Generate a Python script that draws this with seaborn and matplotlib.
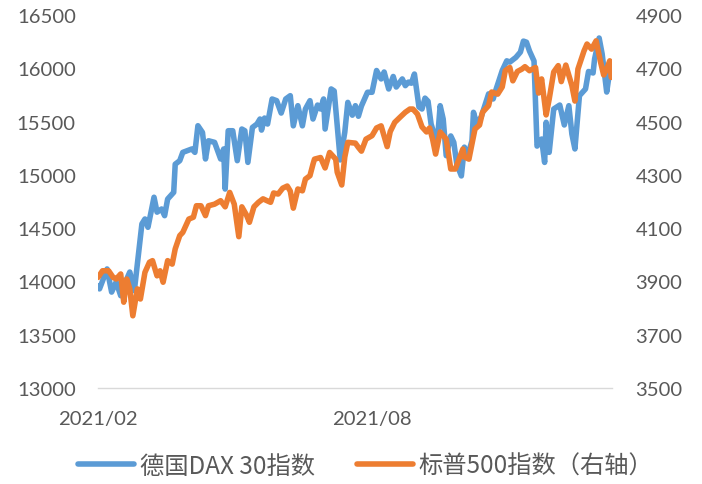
import pandas as pd
import matplotlib
matplotlib.use("Agg")
import matplotlib.pyplot as plt
from matplotlib.lines import Line2D
import seaborn as sns

# ---------------- data ----------------
dax_dates = [
    "2021-02-01", "2021-02-02", "2021-02-07", "2021-02-10", "2021-02-13", "2021-02-16",
    "2021-02-20", "2021-02-22", "2021-02-25", "2021-03-02", "2021-03-04", "2021-03-06",
    "2021-03-10", "2021-03-12", "2021-03-15", "2021-03-17", "2021-03-19", "2021-03-23",
    "2021-03-24", "2021-03-27", "2021-03-29", "2021-04-04", "2021-04-06", "2021-04-08",
    "2021-04-11", "2021-04-13", "2021-04-15", "2021-04-19", "2021-04-23", "2021-04-25",
    "2021-04-26", "2021-04-28", "2021-05-01", "2021-05-04", "2021-05-07", "2021-05-09",
    "2021-05-11", "2021-05-14", "2021-05-17", "2021-05-19", "2021-05-20", "2021-05-22",
    "2021-05-24", "2021-05-27", "2021-05-30", "2021-06-02", "2021-06-05", "2021-06-08",
    "2021-06-10", "2021-06-13", "2021-06-16", "2021-06-18", "2021-06-21", "2021-06-23",
    "2021-06-26", "2021-06-28", "2021-06-30", "2021-07-01", "2021-07-05", "2021-07-07",
    "2021-07-11", "2021-07-14", "2021-07-16", "2021-07-19", "2021-07-21", "2021-07-23",
    "2021-07-25", "2021-07-29", "2021-08-01", "2021-08-04", "2021-08-07", "2021-08-09",
    "2021-08-12", "2021-08-15", "2021-08-17", "2021-08-21", "2021-08-23", "2021-08-25",
    "2021-08-27", "2021-08-29", "2021-09-01", "2021-09-03", "2021-09-05", "2021-09-07",
    "2021-09-09", "2021-09-13", "2021-09-15", "2021-09-17", "2021-09-19", "2021-09-22",
    "2021-09-24", "2021-09-26", "2021-09-29", "2021-10-01", "2021-10-03", "2021-10-06",
    "2021-10-07", "2021-10-09", "2021-10-12", "2021-10-17", "2021-10-20", "2021-10-22",
    "2021-10-26", "2021-10-29", "2021-10-31", "2021-11-04", "2021-11-07", "2021-11-09",
    "2021-11-11", "2021-11-13", "2021-11-16", "2021-11-18", "2021-11-21", "2021-11-23",
    "2021-11-24", "2021-11-26", "2021-11-29", "2021-12-03", "2021-12-06", "2021-12-09",
    "2021-12-11", "2021-12-13", "2021-12-16", "2021-12-20", "2021-12-22", "2021-12-25",
    "2021-12-26", "2021-12-29", "2021-12-31", "2022-01-03", "2022-01-05", "2022-01-06",
]
dax_values = [
    13960, 13930, 14117, 13900, 13995, 13866,
    14023, 14088, 13913, 14540, 14586, 14508,
    14790, 14650, 14680, 14617, 14773, 14836,
    15100, 15133, 15211, 15243, 15211, 15461,
    15398, 15149, 15320, 15305, 15149, 15243,
    14867, 15414, 15414, 15133, 15430, 15414,
    15117, 15445, 15477, 15524, 15420, 15533,
    15477, 15712, 15696, 15580, 15712, 15743,
    15460, 15649, 15460, 15618, 15696, 15524,
    15655, 15618, 15712, 15430, 15806, 15787,
    15140, 15400, 15680, 15560, 15649, 15550,
    15646, 15775, 15775, 15979, 15900, 15965,
    15806, 15923, 15824, 15900, 15837, 15870,
    15860, 15946, 15637, 15618, 15720, 15690,
    15477, 15290, 15649, 15524, 15180, 15365,
    15305, 15100, 14990, 15260, 15168, 15320,
    15587, 15487, 15540, 15760, 15712, 15806,
    15979, 16070, 16058, 16102, 16152, 16255,
    16245, 16162, 16068, 15270, 15336, 15117,
    15493, 15211, 15618, 15655, 15468, 15649,
    15383, 15243, 15743, 15806, 15970, 15956,
    16087, 16284, 16134, 15777, 15975, 15918,
]

spx_dates = [
    "2021-02-01", "2021-02-04", "2021-02-08", "2021-02-11", "2021-02-13", "2021-02-16",
    "2021-02-18", "2021-02-20", "2021-02-22", "2021-02-24", "2021-02-27", "2021-03-01",
    "2021-03-04", "2021-03-07", "2021-03-09", "2021-03-12", "2021-03-14", "2021-03-16",
    "2021-03-19", "2021-03-22", "2021-03-24", "2021-03-27", "2021-03-29", "2021-04-02",
    "2021-04-05", "2021-04-07", "2021-04-10", "2021-04-13", "2021-04-15", "2021-04-19",
    "2021-04-23", "2021-04-26", "2021-04-29", "2021-05-02", "2021-05-05", "2021-05-07",
    "2021-05-10", "2021-05-12", "2021-05-15", "2021-05-18", "2021-05-21", "2021-05-24",
    "2021-05-26", "2021-05-28", "2021-05-31", "2021-06-03", "2021-06-06", "2021-06-08",
    "2021-06-10", "2021-06-13", "2021-06-16", "2021-06-18", "2021-06-21", "2021-06-23",
    "2021-06-24", "2021-06-28", "2021-07-01", "2021-07-04", "2021-07-08", "2021-07-09",
    "2021-07-12", "2021-07-14", "2021-07-16", "2021-07-21", "2021-07-23", "2021-07-25",
    "2021-07-28", "2021-08-01", "2021-08-04", "2021-08-07", "2021-08-11", "2021-08-13",
    "2021-08-16", "2021-08-20", "2021-08-23", "2021-08-26", "2021-08-28", "2021-08-31",
    "2021-09-03", "2021-09-06", "2021-09-08", "2021-09-10", "2021-09-12", "2021-09-15",
    "2021-09-19", "2021-09-22", "2021-09-25", "2021-09-27", "2021-09-30", "2021-10-01",
    "2021-10-04", "2021-10-06", "2021-10-08", "2021-10-11", "2021-10-13", "2021-10-17",
    "2021-10-19", "2021-10-23", "2021-10-26", "2021-10-28", "2021-10-31", "2021-11-02",
    "2021-11-05", "2021-11-08", "2021-11-10", "2021-11-13", "2021-11-17", "2021-11-19",
    "2021-11-21", "2021-11-24", "2021-11-26", "2021-11-29", "2021-12-02", "2021-12-04",
    "2021-12-07", "2021-12-11", "2021-12-13", "2021-12-15", "2021-12-19", "2021-12-21",
    "2021-12-24", "2021-12-27", "2021-12-30", "2022-01-01", "2022-01-03", "2022-01-05",
    "2022-01-06",
]
spx_values = [
    3915, 3940, 3940, 3915, 3909, 3928,
    3822, 3909, 3872, 3771, 3872, 3834,
    3934, 3972, 3978, 3921, 3940, 3897,
    3978, 3965, 4022, 4072, 4084, 4134,
    4141, 4184, 4184, 4147, 4184, 4190,
    4203, 4180, 4234, 4190, 4068, 4180,
    4150, 4122, 4180, 4197, 4210, 4202,
    4197, 4232, 4228, 4250, 4258, 4239,
    4175, 4247, 4240, 4284, 4297, 4340,
    4359, 4365, 4326, 4384, 4359, 4310,
    4262, 4367, 4422, 4419, 4403, 4389,
    4434, 4447, 4476, 4484, 4406, 4462,
    4497, 4519, 4535, 4547, 4547, 4528,
    4480, 4461, 4476, 4434, 4378, 4461,
    4434, 4322, 4322, 4352, 4397, 4367,
    4359, 4416, 4472, 4487, 4535, 4560,
    4611, 4603, 4630, 4691, 4703, 4653,
    4688, 4697, 4706, 4691, 4703, 4607,
    4660, 4525, 4584, 4686, 4710, 4650,
    4712, 4635, 4577, 4697, 4765, 4791,
    4772, 4803, 4722, 4675, 4697, 4728,
    4666,
]

dax_label = "德国DAX 30指数"
spx_label = "标普500指数（右轴）"
x_tick_dates = ["2021-02-01", "2021-08-01"]
x_tick_labels = ["2021/02", "2021/08"]
left_ticks = [13000, 13500, 14000, 14500, 15000, 15500, 16000, 16500]
right_ticks = [3500, 3700, 3900, 4100, 4300, 4500, 4700, 4900]

# ---------------- styling ----------------
sns.set_style("white")
plt.rcParams["font.family"] = ["Lato", "Noto Sans CJK SC", "DejaVu Sans"]

BLUE = "#5B9BD5"
ORANGE = "#ED7D31"
GREY_TXT = "#595959"
AXIS_C = "#D9D9D9"

dax = pd.DataFrame({"date": pd.to_datetime(dax_dates), "value": dax_values})
spx = pd.DataFrame({"date": pd.to_datetime(spx_dates), "value": spx_values})

fig = plt.figure(figsize=(7.02, 4.85), dpi=100)
ax = fig.add_axes([98 / 702, 1 - 389 / 485, (612 - 98) / 702, (389 - 16) / 485])
ax2 = ax.twinx()

line_kw = dict(linewidth=4.0, solid_joinstyle="round", solid_capstyle="round")
sns.lineplot(data=dax, x="date", y="value", ax=ax, color=BLUE, estimator=None,
             sort=False, legend=False, **line_kw)
sns.lineplot(data=spx, x="date", y="value", ax=ax2, color=ORANGE, estimator=None,
             sort=False, legend=False, **line_kw)

x0 = pd.Timestamp("2021-02-01")
x1 = pd.Timestamp("2021-02-01") + pd.Timedelta(days=339.5)
ax.set_xlim(x0, x1)
ax.set_ylim(left_ticks[0], left_ticks[-1])
ax2.set_ylim(right_ticks[0], right_ticks[-1])

ax.set_yticks(left_ticks)
ax.set_yticklabels([str(v) for v in left_ticks])
ax2.set_yticks(right_ticks)
ax2.set_yticklabels([str(v) for v in right_ticks])
ax.set_xticks(pd.to_datetime(x_tick_dates))
ax.set_xticklabels(x_tick_labels)

for a in (ax, ax2):
    a.set_xlabel("")
    a.set_ylabel("")
    for s in ("top", "left", "right", "bottom"):
        a.spines[s].set_visible(False)
    a.grid(False)

ax.spines["bottom"].set_visible(True)
ax.spines["bottom"].set_color(AXIS_C)
ax.spines["bottom"].set_linewidth(1.0)

ax.tick_params(axis="x", direction="out", length=4.5, width=1.0, color=AXIS_C,
               labelsize=14.6, labelcolor=GREY_TXT, pad=11)
ax.tick_params(axis="y", length=0, labelsize=14.6, labelcolor=GREY_TXT, pad=16)
ax2.tick_params(axis="y", length=0, labelsize=14.6, labelcolor=GREY_TXT, pad=17)
ax2.tick_params(axis="x", length=0)

leg_handles = [Line2D([0], [0], color=BLUE, lw=4.0, solid_capstyle="round"),
               Line2D([0], [0], color=ORANGE, lw=4.0, solid_capstyle="round")]
leg = fig.legend(leg_handles, [dax_label, spx_label], loc="center",
                 bbox_to_anchor=(366 / 702, 1 - 467 / 485), ncol=2, frameon=False,
                 handlelength=2.3, handletextpad=0.25, columnspacing=1.7,
                 prop={"family": ["Noto Sans CJK SC", "DejaVu Sans"], "size": 17.5})
for t in leg.get_texts():
    t.set_color(GREY_TXT)

fig.savefig("out.png", dpi=100)
